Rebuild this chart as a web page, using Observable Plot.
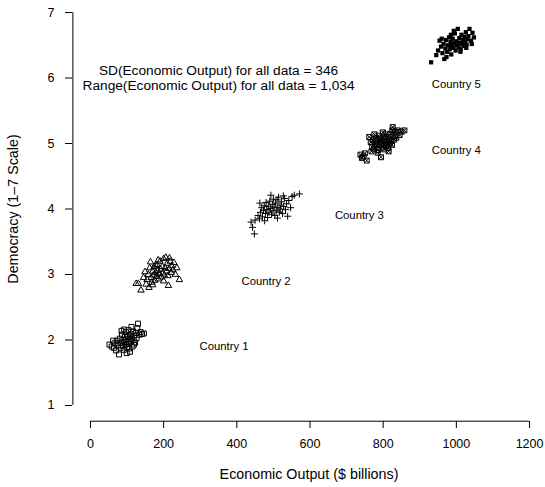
<!DOCTYPE html>
<html><head><meta charset="utf-8">
<script src="https://cdn.jsdelivr.net/npm/d3@7"></script>
<script src="https://cdn.jsdelivr.net/npm/@observablehq/plot@0.6"></script>
<style>body{margin:0;background:#fff} svg{display:block}</style>
</head><body><div id="chart"></div>
<script>
// Economic Output ($ billions), Democracy (1-7) pairs per country
const country1 = [[52,1.93],[58,1.90],[64,1.88],[66,1.95],[70,1.84],[72,1.99],[75,1.92],[78,1.78],[80,2.02],[82,1.88],[84,1.96],[86,2.08],[88,1.91],[90,2.00],[91,1.85],[93,1.97],[94,2.05],[96,1.93],[97,2.12],[98,2.01],[100,1.89],[101,1.97],[103,2.06],[104,2.15],[105,1.94],[107,2.02],[108,1.82],[110,2.09],[111,1.98],[113,2.04],[115,1.90],[116,2.13],[118,2.00],[120,2.07],[122,1.96],[124,2.11],[126,2.03],[128,2.18],[130,2.25],[133,2.08],[137,2.12],[141,2.09],[146,2.10],[62,1.99],[85,2.14],[92,2.16],[99,1.80],[106,1.87],[112,2.20],[119,1.93]];
const country2 = [[125,2.86],[131,2.86],[138,2.76],[145,2.95],[149,3.04],[152,2.85],[155,2.92],[158,3.00],[160,2.80],[162,3.10],[164,3.19],[166,2.95],[168,2.88],[170,3.05],[172,2.99],[174,3.12],[176,2.91],[178,3.03],[180,2.97],[182,3.15],[184,3.06],[186,2.93],[188,3.01],[190,3.20],[192,3.08],[194,2.96],[196,3.12],[198,3.02],[200,3.24],[202,2.99],[204,3.10],[206,3.26],[208,3.05],[210,3.17],[212,2.98],[213,2.83],[215,3.09],[218,3.20],[220,3.03],[222,3.13],[225,3.07],[228,3.18],[232,3.00],[236,3.10],[243,2.92],[170,2.84],[185,3.22],[200,2.90],[216,3.25],[178,3.14]];
const country3 = [[439,3.80],[443,3.72],[448,3.62],[450,3.83],[458,3.90],[462,3.85],[465,3.95],[468,4.02],[470,3.88],[473,3.98],[475,4.05],[478,3.93],[480,4.10],[482,3.99],[484,3.87],[486,4.04],[488,3.95],[490,4.12],[492,4.01],[493,4.21],[495,3.92],[497,4.07],[499,3.98],[500,4.15],[502,4.03],[504,3.90],[506,4.09],[508,3.97],[510,4.14],[512,4.02],[514,4.18],[516,3.95],[518,4.06],[520,4.00],[522,4.11],[525,3.93],[528,4.04],[530,4.16],[533,3.99],[536,4.08],[539,3.89],[542,4.13],[547,4.02],[551,4.19],[557,4.21],[571,4.23],[463,4.09],[476,3.82],[511,3.86],[527,4.20]];
const country4 = [[738,4.83],[742,4.78],[746,4.80],[750,4.85],[755,4.74],[762,5.10],[766,5.02],[770,4.95],[772,5.05],[775,4.92],[778,5.00],[780,5.08],[782,4.97],[784,5.03],[786,4.90],[788,5.12],[790,4.99],[792,5.06],[794,4.79],[796,5.01],[798,4.94],[800,5.09],[802,4.98],[804,5.04],[806,5.14],[808,4.96],[810,5.02],[812,5.10],[814,4.93],[816,5.06],[818,5.00],[820,5.15],[822,5.04],[824,4.98],[826,5.25],[828,5.11],[830,5.06],[833,5.18],[836,5.09],[840,5.20],[845,5.13],[850,5.18],[858,5.20],[776,5.14],[785,4.86],[799,5.17],[815,4.88],[825,5.20],[768,4.88],[803,4.91]];
const country5 = [[931,6.24],[945,6.35],[950,6.42],[954,6.57],[958,6.48],[962,6.38],[965,6.52],[967,6.29],[970,6.45],[972,6.58],[975,6.40],[977,6.50],[980,6.62],[982,6.44],[984,6.55],[986,6.36],[988,6.49],[990,6.60],[992,6.46],[994,6.53],[996,6.68],[998,6.42],[1000,6.56],[1002,6.50],[1004,6.75],[1006,6.47],[1008,6.61],[1010,6.54],[1012,6.44],[1014,6.66],[1016,6.52],[1018,6.58],[1020,6.49],[1022,6.63],[1024,6.55],[1026,6.70],[1028,6.51],[1030,6.59],[1033,6.64],[1036,6.75],[1040,6.57],[1044,6.69],[1048,6.62],[960,6.60],[973,6.32],[993,6.72],[1011,6.40],[1027,6.46],[985,6.66],[1042,6.52]];

const countries = ["Country 1", "Country 2", "Country 3", "Country 4", "Country 5"];
const labelX = [365, 480, 735, 1000, 1000];
const labelY = [1.9, 2.9, 3.9, 4.9, 5.9];
const xTicks = [0, 200, 400, 600, 800, 1000, 1200];
const yTicks = [1, 2, 3, 4, 5, 6, 7];
const noteLines = ["SD(Economic Output) for all data = 346", "Range(Economic Output) for all data = 1,034"];
const noteX = [350];
const noteY = [6.0];
const xTitle = "Economic Output ($ billions)";
const yTitle = "Democracy (1\u20137 Scale)";

const rows = (arr) => arr.map(([x, y]) => ({x, y}));
const xPad = 0.04 * (xTicks[xTicks.length - 1] - xTicks[0]);
const yPad = 0.04 * (yTicks[yTicks.length - 1] - yTicks[0]);
const font = "'Liberation Sans', Arial, Helvetica, sans-serif";
const ink = "#000";

const chart = Plot.plot({
  width: 545, height: 487,
  marginLeft: 72, marginRight: 0, marginTop: 0, marginBottom: 66,
  style: {fontFamily: font, fontSize: "12.5px", color: ink, background: "#fff", overflow: "visible"},
  x: {domain: [xTicks[0] - xPad, xTicks[xTicks.length - 1] + xPad], range: [72.4, 546.6]},
  y: {domain: [yTicks[0] - yPad, yTicks[yTicks.length - 1] + yPad], range: [420.7, -3.7]},
  marks: [
    Plot.ruleY([yTicks[0] - yPad], {x1: xTicks[0], x2: xTicks[xTicks.length - 1], stroke: ink, strokeWidth: 1}),
    Plot.ruleX([xTicks[0] - xPad], {y1: yTicks[0], y2: yTicks[yTicks.length - 1], stroke: ink, strokeWidth: 1}),
    Plot.axisX(xTicks, {anchor: "bottom", tickSize: 7, tickPadding: 11, label: null, fontSize: 12.5, stroke: ink, tickFormat: d => String(d)}),
    Plot.axisY(yTicks, {anchor: "left", tickSize: 7, tickPadding: 11, label: null, fontSize: 12.5, stroke: ink, tickFormat: d => String(d)}),
    Plot.text([xTitle], {frameAnchor: "bottom", dy: 57, fontSize: 14.3, fill: ink}),
    Plot.text([yTitle], {frameAnchor: "left", textAnchor: "middle", dx: -59, dy: -2, rotate: -90, fontSize: 14.3, fill: ink}),
    Plot.dot(rows(country1), {x: "x", y: "y", symbol: "square", r: 2.8, stroke: ink, fill: "none", strokeWidth: 1}),
    Plot.dot(rows(country2), {x: "x", y: "y", symbol: "triangle", r: 2.4, stroke: ink, fill: "none", strokeWidth: 1}),
    Plot.dot(rows(country3), {x: "x", y: "y", symbol: "plus", r: 2.4, stroke: ink, fill: "none", strokeWidth: 1}),
    Plot.dot(rows(country4), {x: "x", y: "y", symbol: "square", r: 2.8, stroke: ink, fill: "none", strokeWidth: 1}),
    Plot.dot(rows(country4), {x: "x", y: "y", symbol: "times", r: 2.4, stroke: ink, fill: "none", strokeWidth: 1}),
    Plot.dot(rows(country5), {x: "x", y: "y", symbol: "square", r: 2.4, fill: ink, stroke: "none"}),
    Plot.text(countries, {x: (d, i) => labelX[i], y: (d, i) => labelY[i], text: d => d, fontSize: 11.3, fill: ink}),
    Plot.text([noteLines.join("\n")], {x: noteX, y: noteY, text: d => d, fontSize: 13.7, lineHeight: 1.1, fill: ink})
  ]
});
document.getElementById("chart").appendChild(chart);
</script>
</body></html>
